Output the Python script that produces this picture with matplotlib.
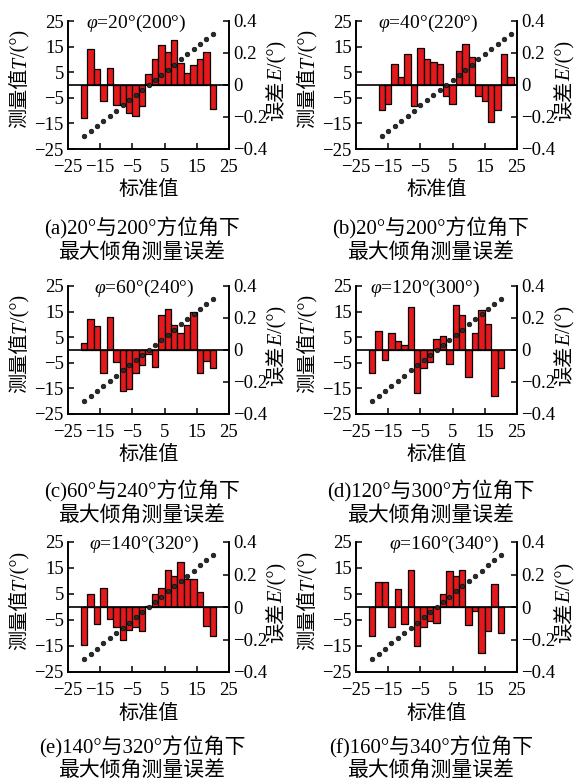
import numpy as np
import matplotlib
matplotlib.use("Agg")
import matplotlib.pyplot as plt
from matplotlib.transforms import IdentityTransform

plt.rcParams['font.family'] = ['Liberation Serif', 'Noto Sans CJK SC']
plt.rcParams['mathtext.fontset'] = 'custom'
plt.rcParams['mathtext.rm'] = 'Liberation Serif'
plt.rcParams['mathtext.it'] = 'Liberation Serif:italic'

# standard (reference) inclination values and measured values T
std_vals = [-20, -18, -16, -14, -12, -10, -8, -6, -4, -2, 0,
            2, 4, 6, 8, 10, 12, 14, 16, 18, 20]
meas_vals = [-20, -18, -16, -14, -12, -10, -8, -6, -4, -2, 0,
             2, 4, 6, 8, 10, 12, 14, 16, 18, 20]
# panel (b) is drawn shifted along the abscissa
std_vals_b = [-17, -15, -13, -11, -9, -7, -5, -3, -1, 1, 3,
              5, 7, 9, 11, 13, 15, 17, 19, 21, 23]

# measurement error E (deg) for each azimuth pair
err_a = [-0.208, 0.224, 0.099, -0.102, 0.104, -0.126, -0.128, -0.173, -0.192, -0.134, 0.069,
         0.160, 0.250, 0.208, 0.280, 0.139, 0.077, 0.128, 0.160, 0.208, -0.152]
err_b = [-0.155, -0.118, 0.134, 0.051, 0.192, -0.131, 0.232, 0.160, 0.144, 0.131, -0.069,
         -0.118, 0.214, 0.256, 0.173, -0.069, -0.099, -0.229, -0.155, 0.192, 0.051]
err_c = [0.046, 0.192, 0.150, -0.146, 0.208, -0.077, -0.256, -0.245, -0.146, -0.093, -0.026,
         -0.104, 0.218, 0.259, 0.155, 0.104, 0.155, 0.240, -0.146, -0.067, -0.114]
err_d = [-0.144, 0.120, -0.064, 0.109, 0.056, 0.032, 0.266, -0.266, -0.114, -0.077, 0.067,
         0.090, -0.090, 0.280, 0.218, -0.166, 0.104, 0.250, 0.160, -0.286, -0.112]
err_e = [-0.234, 0.080, -0.102, 0.117, -0.072, -0.126, -0.202, -0.141, -0.120, -0.150, 0.008,
         0.080, 0.117, 0.227, 0.190, 0.278, 0.170, 0.170, 0.091, -0.114, -0.181]
err_f = [-0.181, 0.152, 0.152, -0.120, 0.110, -0.102, 0.230, -0.240, -0.120, -0.088, -0.099,
         0.080, 0.221, 0.190, 0.230, -0.109, -0.027, -0.280, -0.150, 0.142, -0.160]

phi_titles = ['20°(200°)', '40°(220°)', '60°(240°)', '120°(300°)', '140°(320°)', '160°(340°)']
captions = ['(a)20°与200°方位角下', '(b)20°与200°方位角下', '(c)60°与240°方位角下',
            '(d)120°与300°方位角下', '(e)140°与320°方位角下', '(f)160°与340°方位角下']
caption2 = '最大倾角测量误差'

x_ticks = [-25, -15, -5, 5, 15, 25]
t_ticks = [-25, -15, -5, 5, 15, 25]
e_ticks = [-0.4, -0.2, 0, 0.2, 0.4]
e_labels = ['−0.4', '−0.2', '0', '0.2', '0.4']

errs = [err_a, err_b, err_c, err_d, err_e, err_f]
xs = [std_vals, std_vals_b, std_vals, std_vals, std_vals, std_vals]
title_x = [-3.9, -2.5, -1.4, -3.4, -1.4, 2.5]

W, H = 574, 783
fig = plt.figure(figsize=(W / 100, H / 100), dpi=100)
renderer = fig.canvas.get_renderer()

CJK = {'family': ['Noto Sans CJK SC']}
SERIF = {'family': ['Liberation Serif']}
SERIF_IT = {'family': ['Liberation Serif'], 'style': 'italic'}


def vlabel(pieces, cx, cy, size):
    # vertical label built from differently styled pieces, centred at (cx, cy) px
    objs, widths = [], []
    for s, kw in pieces:
        t = fig.text(0, 0, s, transform=IdentityTransform(), fontsize=size, **kw)
        widths.append(t.get_window_extent(renderer=renderer).width)
        objs.append(t)
    pos = cy - sum(widths) / 2
    bx = cx + 0.36 * size * 100 / 72
    for t, w in zip(objs, widths):
        t.set_position((bx, pos))
        t.set_rotation(90)
        t.set_rotation_mode('anchor')
        t.set_ha('left')
        t.set_va('baseline')
        pos += w


col_left = [68, 356]
col_w = 161
row_top = [21, 286, 542]
row_h = [128, 128, 130]
cap_cx = [142, 431]
cap_y = [(228, 253), (491, 516), (747, 771)]

fs = 13.5
for i in range(6):
    r, c = divmod(i, 2)
    l = col_left[c] / W
    b = 1 - (row_top[r] + row_h[r]) / H
    ax = fig.add_axes([l, b, col_w / W, row_h[r] / H])
    ax2 = ax.twinx()
    ax.set_zorder(ax2.get_zorder() + 1)
    ax.patch.set_visible(False)

    ax2.bar(xs[i], errs[i], width=2, color='#e3191c', edgecolor='black', linewidth=0.9)
    ax2.axhline(0, color='black', lw=1.2)
    ax.plot(xs[i], meas_vals, 'o', color='#2a2a2a', ms=3.4, mec='black', mew=0.4)

    ax.set_xlim(-25, 25)
    ax.set_ylim(-25, 25)
    ax2.set_ylim(-0.4, 0.4)
    ax.set_xticks(x_ticks)
    ax.set_xticklabels([str(v).replace('-', '−') for v in x_ticks])
    ax.set_yticks(t_ticks)
    ax.set_yticklabels([str(v).replace('-', '−') for v in t_ticks])
    ax2.set_yticks(e_ticks)
    ax2.set_yticklabels(e_labels)

    for a in (ax, ax2):
        a.spines['top'].set_visible(False)
        for s in a.spines.values():
            s.set_linewidth(1.2)
        a.tick_params(direction='in', length=4, width=1.1, labelsize=fs, pad=3)
    ax.tick_params(axis='x', pad=7)

    ax.text(title_x[i], 24.0, r'$\varphi$=' + phi_titles[i], ha='center', va='center',
            fontsize=14)

    # axis titles
    top_px = H - row_top[r]
    mid_y = top_px - row_h[r] / 2
    spine_l = col_left[c]
    spine_r = col_left[c] + col_w
    vlabel([('测量值', CJK), ('T', SERIF_IT), ('/(°)', SERIF)], spine_l - 50, mid_y + 6, 14.5)
    vlabel([('误差', CJK), ('E', SERIF_IT), ('/(°)', SERIF)], spine_r + 46, mid_y + 4, 14.5)
    ax.text(0.5, -0.32, '标准值', transform=ax.transAxes, ha='center', va='center',
            fontsize=14.5, **CJK)

    fig.text(cap_cx[c] / W, 1 - cap_y[r][0] / H, captions[i], ha='center', va='center',
             fontsize=15)
    fig.text(cap_cx[c] / W, 1 - cap_y[r][1] / H, caption2, ha='center', va='center',
             fontsize=15, **CJK)

fig.savefig('out.png', dpi=100)
